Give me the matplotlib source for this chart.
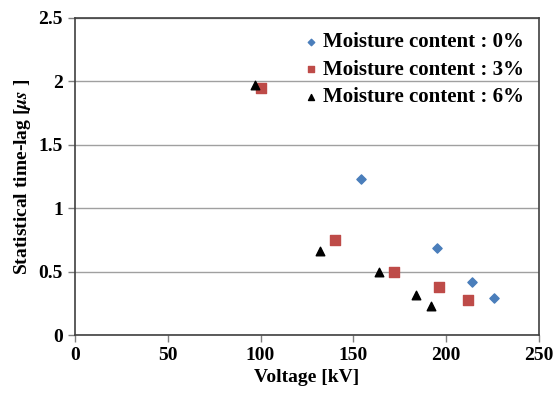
import matplotlib

matplotlib.use("Agg")
import matplotlib.pyplot as plt

volt_0 = [154, 195, 214, 226]
lag_0 = [1.23, 0.69, 0.42, 0.29]
volt_3 = [100, 140, 172, 196, 212]
lag_3 = [1.95, 0.75, 0.50, 0.38, 0.28]
volt_6 = [97, 132, 164, 184, 192]
lag_6 = [1.97, 0.66, 0.50, 0.32, 0.23]

plt.rcParams["font.family"] = ["Liberation Serif", "DejaVu Serif"]
plt.rcParams["font.weight"] = "bold"
plt.rcParams["mathtext.fontset"] = "stix"

fig = plt.figure(figsize=(5.55, 3.98), dpi=100)
ax = fig.add_axes([0.135, 0.158, 0.836, 0.797])

ax.scatter(volt_0, lag_0, marker="D", s=22, color="#4a7ebb", label="Moisture content : 0%", zorder=3)
ax.scatter(volt_3, lag_3, marker="s", s=45, color="#be4b48", label="Moisture content : 3%", zorder=3)
ax.scatter(volt_6, lag_6, marker="^", s=38, color="black", label="Moisture content : 6%", zorder=3)

ax.set_xlim(0, 250)
ax.set_ylim(0, 2.5)
ax.set_xticks([0, 50, 100, 150, 200, 250])
ax.set_yticks([0, 0.5, 1, 1.5, 2, 2.5])
ax.set_yticklabels(["0", "0.5", "1", "1.5", "2", "2.5"])
ax.grid(axis="y", color="#a0a0a0", linewidth=1)
ax.set_axisbelow(True)
ax.tick_params(labelsize=14, direction="out", length=5, color="#808080", width=1)
for lbl in ax.get_xticklabels() + ax.get_yticklabels():
    lbl.set_fontweight("bold")
for sp in ax.spines.values():
    sp.set_color("#404040")
    sp.set_linewidth(1.2)

ax.set_xlabel("Voltage [kV]", fontsize=14, fontweight="bold")
ax.set_ylabel(r"Statistical time-lag [$\mu s$ ]", fontsize=14, fontweight="bold")

ax.legend(loc="upper right", frameon=False, handletextpad=0.1,
          borderaxespad=0.3, labelspacing=0.35, markerscale=0.7, handlelength=1.0,
          prop={"weight": "bold", "size": 15})

fig.savefig("out.png", dpi=100)
